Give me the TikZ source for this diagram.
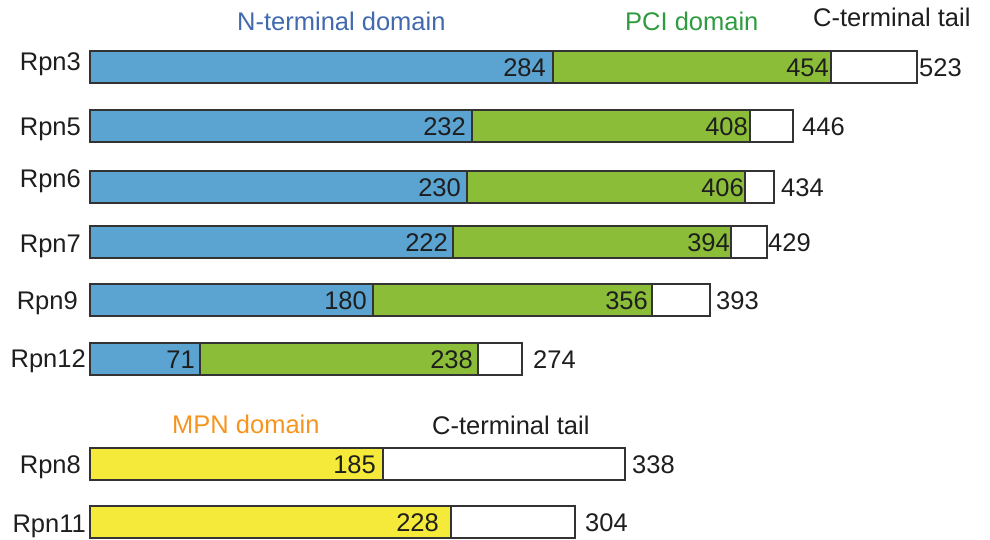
\documentclass[tikz,border=0pt]{standalone}
\usepackage{fontspec}
\setmainfont{Liberation Sans}
\definecolor{ntermBlue}{HTML}{5BA3D0}
\definecolor{pciGreen}{HTML}{8BBD39}
\definecolor{mpnYellow}{HTML}{F5E93A}
\definecolor{edgeDark}{HTML}{333333}
\definecolor{ntermText}{HTML}{4169AE}
\definecolor{pciText}{HTML}{2E9B3E}
\definecolor{mpnText}{HTML}{F7941E}
\definecolor{labelDark}{HTML}{1E1E1E}

\begin{document}
\begin{tikzpicture}[x=1pt, y=-1pt,
    seg/.style={draw=edgeDark, line width=1.3pt},
    nterm/.style={seg, fill=ntermBlue},
    pci/.style={seg, fill=pciGreen},
    mpn/.style={seg, fill=mpnYellow},
    tail/.style={seg, fill=white},
    lbl/.style={font=\fontsize{25.5}{30}\selectfont, text=labelDark, inner sep=0pt},
    protname/.style={lbl, anchor=base east},
    cutnum/.style={lbl, anchor=base east},
    lennum/.style={lbl, anchor=base west},
    head/.style={lbl, anchor=base west},
  ]
    \useasboundingbox (0,0) rectangle (990,539);

    % Headers
    \node[head, text=ntermText] (head-nterm) at (237,30) {N-terminal domain};
    \node[head, text=pciText] (head-pci) at (625,30.7) {PCI domain};
    \node[head] (head-ctail) at (813,26) {C-terminal tail};
    \node[head, text=mpnText] (head-mpn) at (172,433.3) {MPN domain};
    \node[head] (head-mtail) at (432,434) {C-terminal tail};

    % PCI proteins: name/label x/label y/top/cut/num x/pci cut/num x/end/len x/values
    \foreach \p/\lx/\ly/\t/\ca/\xa/\cb/\xb/\e/\xl/\va/\vb/\vl in {%
      Rpn3/81/70/51/553/546/831/829/917/919/284/454/523,
      Rpn5/81/135/110/472/466/750/748/793/802/232/408/446,
      Rpn6/81/187/171/467/461/745/744/774/781/230/406/434,
      Rpn7/81/252/226/453/448/731/730/767/768/222/394/429,
      Rpn9/78/309/284/373/367/652/648/710/716/180/356/393,
      Rpn12/86/367/343/200/195/478/473/522/533/71/238/274}{
      \draw[nterm] (90,\t) rectangle (\ca,\t+32);
      \draw[pci] (\ca,\t) rectangle (\cb,\t+32);
      \draw[tail] (\cb,\t) rectangle (\e,\t+32);
      \node[protname] (name-\p) at (\lx,\ly) {\p};
      \node[cutnum] (cut-\p) at (\xa,\t+25) {\va};
      \node[cutnum] (pcut-\p) at (\xb,\t+25) {\vb};
      \node[lennum] (len-\p) at (\xl,\t+25) {\vl};
    }

    % MPN proteins
    \foreach \p/\lx/\ly/\t/\ca/\xa/\e/\xl/\va/\vl in {%
      Rpn8/81/473/448/383/376/625/632/185/338,
      Rpn11/86/532/506/451/439/575/585/228/304}{
      \draw[mpn] (90,\t) rectangle (\ca,\t+32);
      \draw[tail] (\ca,\t) rectangle (\e,\t+32);
      \node[protname] (name-\p) at (\lx,\ly) {\p};
      \node[cutnum] (cut-\p) at (\xa,\t+25) {\va};
      \node[lennum] (len-\p) at (\xl,\t+25) {\vl};
    }
  \end{tikzpicture}
\end{document}
